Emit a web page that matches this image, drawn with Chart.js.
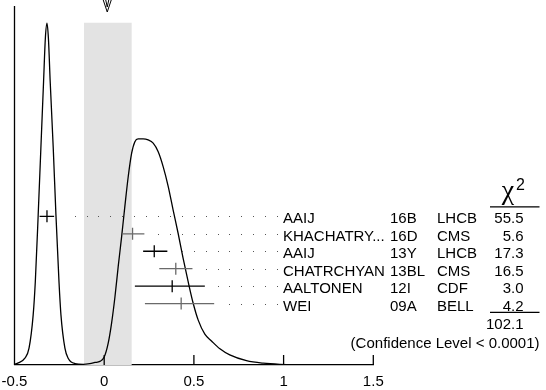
<!DOCTYPE html>
<html>
<head>
<meta charset="utf-8">
<script src="https://cdn.jsdelivr.net/npm/chart.js@4.4.1/dist/chart.umd.min.js"></script>
<style>
  html, body { margin: 0; padding: 0; background: #fff; }
  #wrap { width: 546px; height: 390px; }
</style>
</head>
<body>
<div id="wrap"><canvas id="ideo" width="546" height="390"></canvas></div>
<script>
// ideogram curve
const IDEO_X = [-0.5, -0.479, -0.442, -0.419, -0.396, -0.384, -0.368, -0.353, -0.338, -0.328,
    -0.319, -0.311, -0.301, -0.284, -0.269, -0.252, -0.241, -0.219, -0.201, -0.163,
    -0.117, -0.08, -0.052, -0.024, 0.0, 0.022, 0.041, 0.06, 0.078, 0.097,
    0.115, 0.134, 0.153, 0.171, 0.189, 0.217, 0.245, 0.273, 0.301, 0.329,
    0.357, 0.384, 0.412, 0.44, 0.468, 0.496, 0.524, 0.561, 0.598, 0.645,
    0.7, 0.793, 0.886, 0.979, 1.09, 1.5];
const IDEO_Y = [0.002, 0.006, 0.019, 0.047, 0.139, 0.232, 0.418, 0.604, 0.789, 0.91,
    0.952, 0.91, 0.789, 0.604, 0.418, 0.232, 0.139, 0.047, 0.019, 0.004,
    0.002, 0.004, 0.007, 0.01, 0.022, 0.06, 0.116, 0.19, 0.274, 0.357,
    0.441, 0.525, 0.59, 0.622, 0.63, 0.63, 0.627, 0.618, 0.594, 0.552,
    0.497, 0.432, 0.367, 0.297, 0.232, 0.172, 0.125, 0.086, 0.067, 0.045,
    0.028, 0.012, 0.005, 0.002, 0.001, 0.0];

// measurements
const AUTHORS = ['AAIJ', 'KHACHATRY...', 'AAIJ', 'CHATRCHYAN', 'AALTONEN', 'WEI'];
const CODES = ['16B', '16D', '13Y', '13BL', '12I', '09A'];
const EXPTS = ['LHCB', 'CMS', 'LHCB', 'CMS', 'CDF', 'BELL'];
const VALUES = [-0.319, 0.158, 0.279, 0.399, 0.379, 0.429];
const ERR_LO = [0.041, 0.056, 0.062, 0.092, 0.208, 0.202];
const ERR_HI = [0.040, 0.066, 0.073, 0.093, 0.182, 0.184];
const CHI2 = ['55.5', '5.6', '17.3', '16.5', '3.0', '4.2'];
const CHI2_TOTAL = '102.1';
const CL_TEXT = '(Confidence Level < 0.0001)';

const AVERAGE = 0.017;
const BAND = [-0.113, 0.154];
const BAND_TOP = 0.953;

const ROW_Y0 = 0.414;   // y value of first row
const ROW_DY = 0.0486;  // row step in y units
const FONT = '"Liberation Sans", Arial, Helvetica, sans-serif';

const rowVal = i => ROW_Y0 - i * ROW_DY;

const extras = {
    id: 'extras',
    afterDraw(chart) {
        const { ctx, scales: { x, y }, chartArea } = chart;
        ctx.save();

        // left axis line
        ctx.strokeStyle = '#000';
        ctx.lineWidth = 1.3;
        ctx.beginPath();
        ctx.moveTo(chartArea.left, chartArea.top);
        ctx.lineTo(chartArea.left, chartArea.bottom);
        ctx.stroke();

        // inward x ticks
        x.ticks.forEach(t => {
            const px = x.getPixelForValue(t.value);
            if (t.value === x.min) return;
            ctx.beginPath();
            ctx.moveTo(px, chartArea.bottom);
            ctx.lineTo(px, chartArea.bottom - 10);
            ctx.stroke();
        });

        // arrow at the average
        const ax = x.getPixelForValue(AVERAGE);
        ctx.lineWidth = 1;
        ctx.beginPath();
        ctx.moveTo(ax - 4, 0);
        ctx.lineTo(ax, 12);
        ctx.lineTo(ax + 4, 0);
        ctx.moveTo(ax - 1.5, 0);
        ctx.lineTo(ax, 7);
        ctx.lineTo(ax + 1.5, 0);
        ctx.stroke();

        const labelX = 283;
        VALUES.forEach((v, i) => {
            const py = y.getPixelForValue(rowVal(i));
            const lo = x.getPixelForValue(v - ERR_LO[i]);
            const hi = x.getPixelForValue(v + ERR_HI[i]);
            const cx = x.getPixelForValue(v);
            ctx.strokeStyle = i % 2 ? '#6a6a6a' : '#000';
            ctx.lineWidth = 1.3;
            ctx.beginPath();
            ctx.moveTo(lo, py);
            ctx.lineTo(hi, py);
            ctx.moveTo(cx, py - 6);
            ctx.lineTo(cx, py + 6);
            ctx.stroke();

            // dotted leader
            ctx.fillStyle = '#555';
            for (let dx = labelX - 6; dx > hi + 9; dx -= 11.9) {
                ctx.fillRect(Math.round(dx), Math.round(py), 1, 1);
            }

            ctx.fillStyle = '#000';
            ctx.font = '15px ' + FONT;
            ctx.textBaseline = 'alphabetic';
            ctx.textAlign = 'left';
            ctx.fillText(AUTHORS[i], labelX, py + 7);
            ctx.fillText(CODES[i], 390, py + 7);
            ctx.fillText(EXPTS[i], 437, py + 7);
            ctx.textAlign = 'right';
            ctx.fillText(CHI2[i], 523.5, py + 7);
        });

        const r0 = y.getPixelForValue(rowVal(0));
        const r5 = y.getPixelForValue(rowVal(5));
        // chi2 header
        ctx.fillStyle = '#000';
        ctx.textAlign = 'center';
        ctx.font = '28px "Liberation Serif", "DejaVu Serif", serif';
        ctx.fillText('\u03c7', 508, r0 - 17);
        ctx.font = '16px ' + FONT;
        ctx.textAlign = 'left';
        ctx.fillText('2', 516, r0 - 26);

        ctx.strokeStyle = '#000';
        ctx.lineWidth = 1.3;
        ctx.beginPath();
        ctx.moveTo(490, r0 - 9.5);
        ctx.lineTo(539.5, r0 - 9.5);
        ctx.moveTo(490, r5 + 8.7);
        ctx.lineTo(539.5, r5 + 8.7);
        ctx.stroke();

        ctx.font = '15px ' + FONT;
        ctx.textAlign = 'right';
        ctx.fillText(CHI2_TOTAL, 523.5, r5 + 25);
        ctx.fillText(CL_TEXT, 539.5, r5 + 44);

        ctx.restore();
    }
};

new Chart(document.getElementById('ideo'), {
    type: 'line',
    data: {
        datasets: [{
            data: IDEO_X.map((v, i) => ({ x: v, y: IDEO_Y[i] })),
            borderColor: '#000',
            borderWidth: 1.3,
            pointRadius: 0,
            cubicInterpolationMode: 'monotone',
            fill: false,
            order: 1
        }, {
            data: BAND.map(v => ({ x: v, y: BAND_TOP })),
            borderWidth: 0,
            borderColor: 'rgba(0,0,0,0)',
            backgroundColor: '#e3e3e3',
            fill: 'origin',
            pointRadius: 0,
            order: 2
        }]
    },
    options: {
        responsive: false,
        animation: false,
        devicePixelRatio: 1,
        layout: { padding: { left: 14.5, right: 172.7, top: 6, bottom: 0 } },
        plugins: { legend: { display: false }, tooltip: { enabled: false } },
        scales: {
            x: {
                type: 'linear',
                min: -0.5,
                max: 1.5,
                grid: { display: false, drawTicks: false },
                border: { display: true, color: '#000', width: 1.3 },
                ticks: {
                    stepSize: 0.5,
                    padding: 8,
                    color: '#000',
                    font: { size: 15, family: FONT },
                    callback: v => String(v)
                },
                afterFit: s => {
                    s.height = 25;
                    s.paddingLeft = 0;
                    s.paddingRight = 0;
                }
            },
            y: {
                type: 'linear',
                min: 0,
                max: 1,
                display: false
            }
        }
    },
    plugins: [extras]
});
</script>
</body>
</html>
